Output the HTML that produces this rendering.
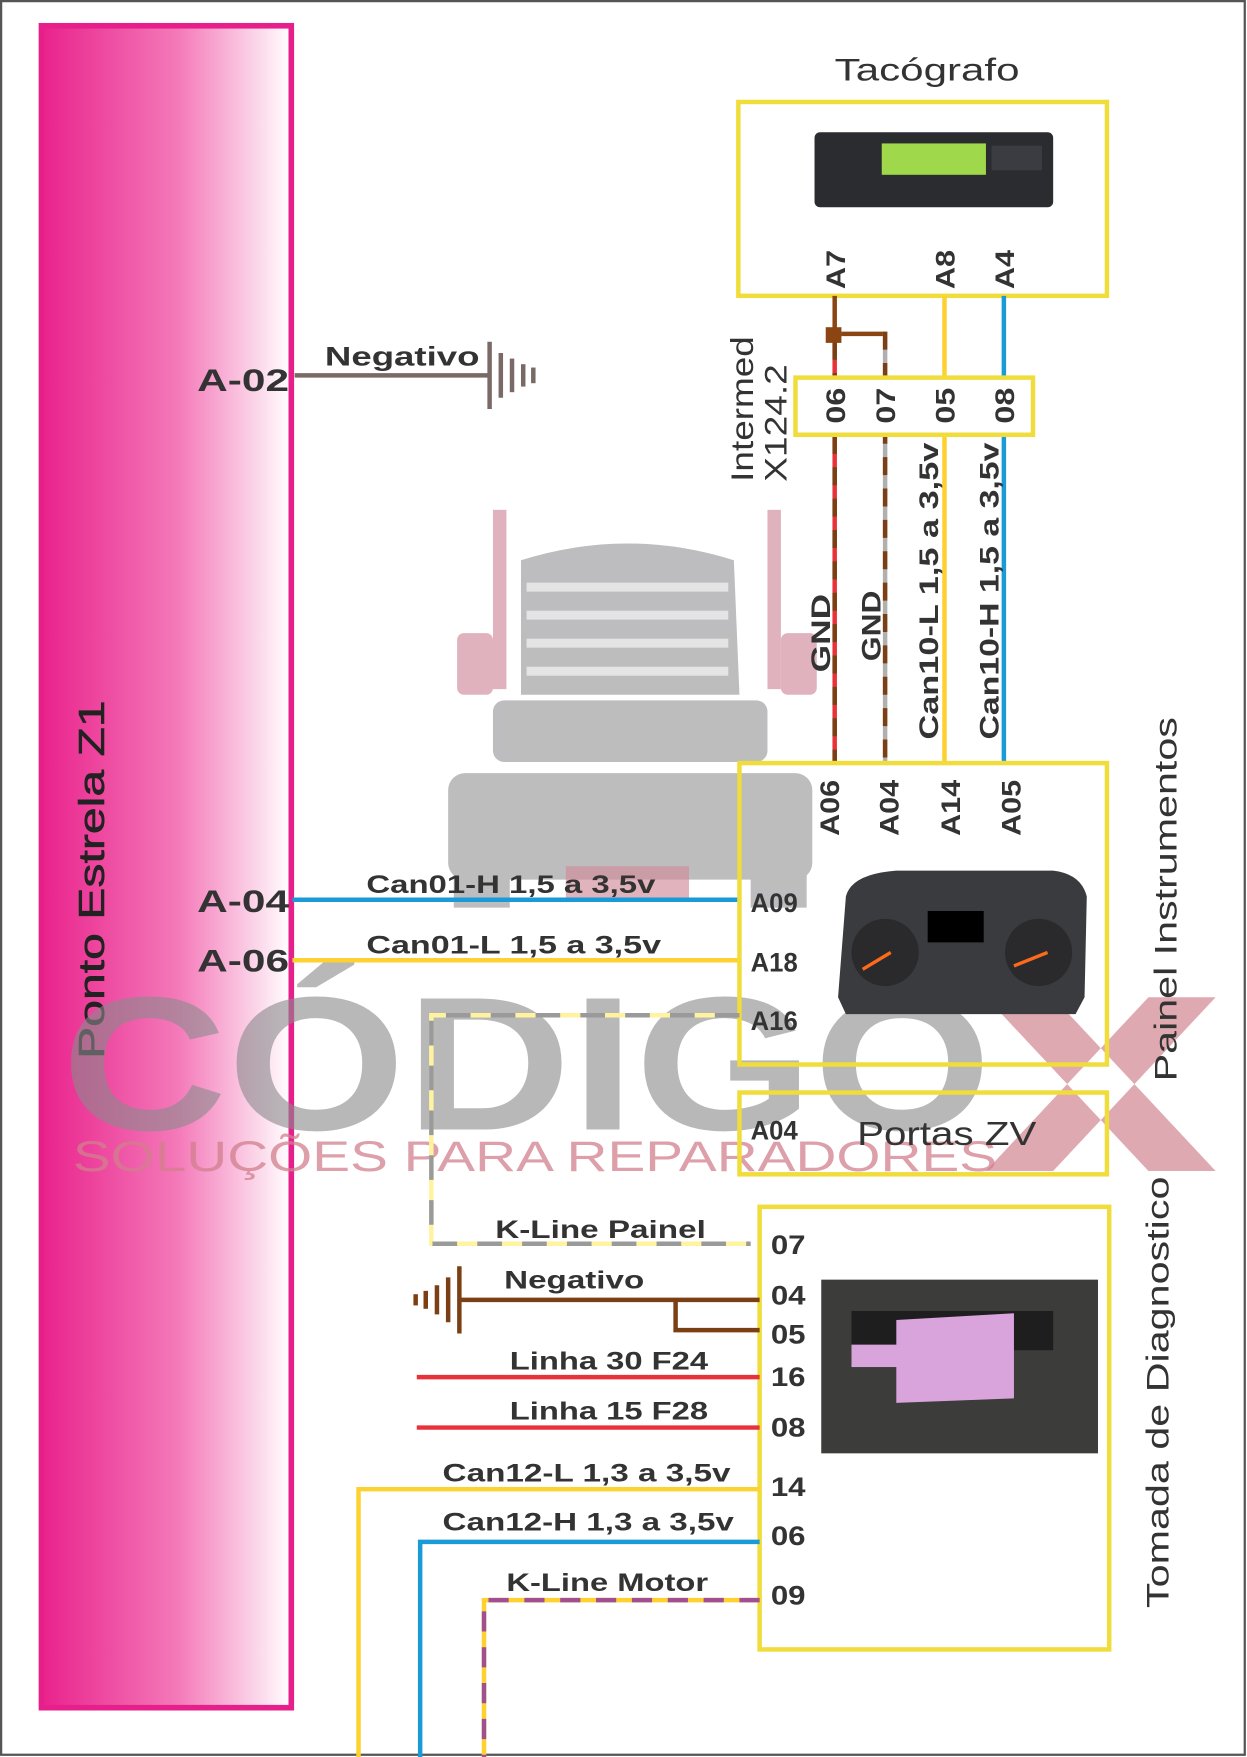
<!DOCTYPE html>
<html><head><meta charset="utf-8"><style>html,body{margin:0;padding:0;background:#fff}svg{display:block}text{font-family:"Liberation Sans",sans-serif}</style></head><body>
<svg width="1247" height="1757" viewBox="0 0 1113 1568" preserveAspectRatio="none" xmlns="http://www.w3.org/2000/svg">
<defs>
<linearGradient id="pg" x1="0" x2="1" y1="0" y2="0"><stop offset="0" stop-color="#e9228c"/><stop offset="0.55" stop-color="#f47ab9"/><stop offset="1" stop-color="#fff"/></linearGradient>
</defs>
<rect x="1" y="1" width="1110" height="1565" fill="#fff" stroke="#555" stroke-width="2"/>
<rect x="37" y="23" width="223" height="1501" fill="url(#pg)" stroke="#e61f8a" stroke-width="5"/>
<text transform="translate(93,945) rotate(-90)" font-size="32" fill="#222" stroke="#222" stroke-width="0.5" textLength="320" lengthAdjust="spacingAndGlyphs">Ponto Estrela Z1</text>

<!-- watermark truck -->
<g fill="#9a9a9c" opacity="0.65">
<path d="M465 500 Q560 470 655 500 L660 620 L465 620 Z"/>
<rect x="440" y="625" width="245" height="55" rx="10"/>
<rect x="400" y="690" width="325" height="95" rx="15"/>
<rect x="405" y="780" width="50" height="30"/>
<rect x="670" y="780" width="50" height="30"/>
</g>
<g fill="#fff" opacity="0.6"><rect x="470" y="520" width="180" height="8"/><rect x="470" y="545" width="180" height="8"/><rect x="470" y="570" width="180" height="8"/><rect x="470" y="595" width="180" height="8"/></g>
<g fill="#d08a9a" opacity="0.65">
<rect x="440" y="455" width="12" height="160"/><rect x="685" y="455" width="12" height="160"/>
<rect x="408" y="565" width="32" height="55" rx="6"/><rect x="697" y="565" width="32" height="55" rx="6"/>
<rect x="505" y="773" width="110" height="30"/>
</g>
<text x="55" y="1008" font-size="170" font-weight="bold" fill="#8a8a8c" opacity="0.6" textLength="830" lengthAdjust="spacingAndGlyphs">CÓDIGO</text>
<path d="M880 890 L940 890 L1085 1045 L1025 1045 Z M1085 890 L1025 890 L880 1045 L940 1045 Z" fill="#c9707f" opacity="0.6"/>
<text x="65" y="1045" font-size="38" fill="#d27f8d" opacity="0.75" textLength="825" lengthAdjust="spacingAndGlyphs">SOLUÇÕES PARA REPARADORES</text>

<!-- left connections -->
<g font-weight="bold" fill="#333" font-size="28">
<text x="176" y="349" textLength="82" lengthAdjust="spacingAndGlyphs">A-02</text><text x="176" y="814" textLength="82" lengthAdjust="spacingAndGlyphs">A-04</text><text x="176" y="867" textLength="82" lengthAdjust="spacingAndGlyphs">A-06</text>
</g>
<line x1="263" y1="335" x2="437" y2="335" stroke="#7a6a66" stroke-width="4"/>
<text x="290" y="326" font-size="24" font-weight="bold" fill="#333" textLength="138" lengthAdjust="spacingAndGlyphs">Negativo</text>
<g stroke="#7a6a66" stroke-width="4"><line x1="437" y1="305" x2="437" y2="365"/><line x1="447" y1="315" x2="447" y2="355"/><line x1="457" y1="320" x2="457" y2="350"/><line x1="467" y1="325" x2="467" y2="345"/><line x1="476" y1="328" x2="476" y2="342"/></g>
<line x1="261" y1="803" x2="660" y2="803" stroke="#1a9ad6" stroke-width="4"/>
<line x1="261" y1="857" x2="660" y2="857" stroke="#fdd130" stroke-width="4"/>
<g font-size="22" font-weight="bold" fill="#333"><text x="327" y="797" textLength="258" lengthAdjust="spacingAndGlyphs">Can01-H 1,5 a 3,5v</text><text x="327" y="851" textLength="263" lengthAdjust="spacingAndGlyphs">Can01-L  1,5 a 3,5v</text></g>

<!-- Tacografo -->
<text x="745" y="72" font-size="28" fill="#333" textLength="165" lengthAdjust="spacingAndGlyphs">Tacógrafo</text>
<rect x="659" y="91" width="329" height="173" fill="none" stroke="#f0dc3a" stroke-width="4"/>
<rect x="727" y="118" width="213" height="67" rx="5" fill="#2a2c30"/>
<rect x="787" y="128" width="93" height="28" fill="#9fd84a"/>
<rect x="885" y="130" width="45" height="22" fill="#3a3c42"/>
<g font-weight="bold" font-size="24" fill="#333">
<text transform="translate(754,258) rotate(-90)" textLength="35" lengthAdjust="spacingAndGlyphs">A7</text><text transform="translate(852,258) rotate(-90)" textLength="35" lengthAdjust="spacingAndGlyphs">A8</text><text transform="translate(905,258) rotate(-90)" textLength="35" lengthAdjust="spacingAndGlyphs">A4</text>
</g>
<!-- wires -->
<line x1="745" y1="264" x2="745" y2="305" stroke="#8b4513" stroke-width="4"/>
<line x1="745" y1="305" x2="745" y2="680" stroke="#e8323a" stroke-width="4"/>
<line x1="745" y1="305" x2="745" y2="680" stroke="#7b3f14" stroke-width="4" stroke-dasharray="16 12"/>
<rect x="737" y="292" width="14" height="14" fill="#8b4513"/>
<line x1="751" y1="298" x2="790" y2="298" stroke="#8b4513" stroke-width="4"/>
<line x1="790" y1="296" x2="790" y2="680" stroke="#b0b0b0" stroke-width="4"/>
<line x1="790" y1="296" x2="790" y2="680" stroke="#7b3f14" stroke-width="4" stroke-dasharray="16 12"/>
<line x1="843" y1="264" x2="843" y2="680" stroke="#fdd130" stroke-width="4"/>
<line x1="896" y1="264" x2="896" y2="680" stroke="#1a9ad6" stroke-width="4"/>
<rect x="710" y="337" width="212" height="51" fill="#fff" stroke="#f0dc3a" stroke-width="4"/>
<g font-weight="bold" font-size="24" fill="#333">
<text transform="translate(754,378) rotate(-90)" textLength="32" lengthAdjust="spacingAndGlyphs">06</text><text transform="translate(799,378) rotate(-90)" textLength="32" lengthAdjust="spacingAndGlyphs">07</text><text transform="translate(852,378) rotate(-90)" textLength="32" lengthAdjust="spacingAndGlyphs">05</text><text transform="translate(905,378) rotate(-90)" textLength="32" lengthAdjust="spacingAndGlyphs">08</text>
<text transform="translate(741,600) rotate(-90)" textLength="70" lengthAdjust="spacingAndGlyphs">GND</text><text transform="translate(786,590) rotate(-90)" textLength="63" lengthAdjust="spacingAndGlyphs">GND</text>
<text transform="translate(837,660) rotate(-90)" textLength="265" lengthAdjust="spacingAndGlyphs">Can10-L 1,5 a 3,5v</text><text transform="translate(891,660) rotate(-90)" textLength="265" lengthAdjust="spacingAndGlyphs">Can10-H 1,5 a 3,5v</text>
</g>
<g font-size="28" fill="#333"><text transform="translate(672,430) rotate(-90)" textLength="130" lengthAdjust="spacingAndGlyphs">Intermed</text><text transform="translate(702,430) rotate(-90)" textLength="105" lengthAdjust="spacingAndGlyphs">X124.2</text></g>

<!-- Painel -->
<rect x="660" y="681" width="328" height="269" fill="none" stroke="#f0dc3a" stroke-width="4"/>
<g font-weight="bold" font-size="24" fill="#333">
<text transform="translate(749,746) rotate(-90)" textLength="50" lengthAdjust="spacingAndGlyphs">A06</text><text transform="translate(802,746) rotate(-90)" textLength="50" lengthAdjust="spacingAndGlyphs">A04</text><text transform="translate(857,746) rotate(-90)" textLength="50" lengthAdjust="spacingAndGlyphs">A14</text><text transform="translate(911,746) rotate(-90)" textLength="50" lengthAdjust="spacingAndGlyphs">A05</text>
<text x="670" y="814" textLength="42" lengthAdjust="spacingAndGlyphs">A09</text><text x="670" y="867" textLength="42" lengthAdjust="spacingAndGlyphs">A18</text><text x="670" y="919" textLength="42" lengthAdjust="spacingAndGlyphs">A16</text><text x="670" y="1017" textLength="42" lengthAdjust="spacingAndGlyphs">A04</text>
</g>
<path d="M755 800 Q760 780 800 777 L940 777 Q965 780 970 800 L968 890 L960 905 L755 905 L748 890 Z" fill="#3a3b3e"/>
<rect x="828" y="813" width="50" height="28" fill="#000"/>
<circle cx="790" cy="850" r="30" fill="#2a2a2c"/><circle cx="927" cy="850" r="30" fill="#2a2a2c"/>
<line x1="770" y1="865" x2="795" y2="850" stroke="#ff6a1a" stroke-width="3"/><line x1="905" y1="862" x2="935" y2="850" stroke="#ff6a1a" stroke-width="3"/>
<text transform="translate(1050,965) rotate(-90)" font-size="28" fill="#333" textLength="325" lengthAdjust="spacingAndGlyphs">Painel Instrumentos</text>
<rect x="660" y="975" width="328" height="73" fill="none" stroke="#f0dc3a" stroke-width="4"/>
<text x="765" y="1022" font-size="30" fill="#333" textLength="160" lengthAdjust="spacingAndGlyphs">Portas ZV</text>

<!-- K-line painel -->
<path d="M660 906 L385 906 L385 1110 L670 1110" fill="none" stroke="#fff3a0" stroke-width="4"/>
<path d="M660 906 L385 906 L385 1110 L670 1110" fill="none" stroke="#9a9a9a" stroke-width="4" stroke-dasharray="22 18"/>

<!-- Tomada -->
<rect x="678" y="1077" width="312" height="395" fill="none" stroke="#f0dc3a" stroke-width="4"/>
<text transform="translate(1043,1435) rotate(-90)" font-size="28" fill="#333" textLength="385" lengthAdjust="spacingAndGlyphs">Tomada de Diagnostico</text>
<rect x="733" y="1142" width="247" height="155" fill="#3c3c3a"/>
<rect x="760" y="1170" width="180" height="35" fill="#1e1e1e"/>
<path d="M800 1178 L905 1172 L905 1248 L800 1252 Z" fill="#d9a3dc"/>
<rect x="760" y="1200" width="50" height="20" fill="#d9a3dc"/>
<g font-weight="bold" font-size="24" fill="#333">
<text x="688" y="1119" textLength="31" lengthAdjust="spacingAndGlyphs">07</text><text x="688" y="1164" textLength="31" lengthAdjust="spacingAndGlyphs">04</text><text x="688" y="1199" textLength="31" lengthAdjust="spacingAndGlyphs">05</text><text x="688" y="1237" textLength="31" lengthAdjust="spacingAndGlyphs">16</text><text x="688" y="1282" textLength="31" lengthAdjust="spacingAndGlyphs">08</text><text x="688" y="1335" textLength="31" lengthAdjust="spacingAndGlyphs">14</text><text x="688" y="1379" textLength="31" lengthAdjust="spacingAndGlyphs">06</text><text x="688" y="1432" textLength="31" lengthAdjust="spacingAndGlyphs">09</text>
</g>
<g font-weight="bold" font-size="22" fill="#333">
<text x="442" y="1105" textLength="188" lengthAdjust="spacingAndGlyphs">K-Line Painel</text><text x="450" y="1150" textLength="125" lengthAdjust="spacingAndGlyphs">Negativo</text>
<text x="455" y="1222" textLength="177" lengthAdjust="spacingAndGlyphs">Linha 30 F24</text><text x="455" y="1267" textLength="177" lengthAdjust="spacingAndGlyphs">Linha 15 F28</text>
<text x="395" y="1322" textLength="257" lengthAdjust="spacingAndGlyphs">Can12-L 1,3 a 3,5v</text><text x="395" y="1366" textLength="260" lengthAdjust="spacingAndGlyphs">Can12-H 1,3 a 3,5v</text><text x="452" y="1420" textLength="180" lengthAdjust="spacingAndGlyphs">K-Line Motor</text>
</g>
<g stroke="#7b3f14" stroke-width="4" fill="none">
<line x1="410" y1="1160" x2="678" y2="1160"/><path d="M603 1160 L603 1187 L678 1187"/>
<line x1="410" y1="1130" x2="410" y2="1190"/><line x1="400" y1="1140" x2="400" y2="1180"/><line x1="390" y1="1147" x2="390" y2="1173"/><line x1="380" y1="1152" x2="380" y2="1168"/><line x1="371" y1="1155" x2="371" y2="1165"/>
</g>
<line x1="372" y1="1229" x2="678" y2="1229" stroke="#e8323a" stroke-width="4"/>
<line x1="372" y1="1274" x2="678" y2="1274" stroke="#e8323a" stroke-width="4"/>
<path d="M678 1329 L320 1329 L320 1568" fill="none" stroke="#fdd130" stroke-width="4"/>
<path d="M678 1376 L375 1376 L375 1568" fill="none" stroke="#1a9ad6" stroke-width="4"/>
<path d="M678 1428 L432 1428 L432 1568" fill="none" stroke="#fdd130" stroke-width="4"/>
<path d="M678 1428 L432 1428 L432 1568" fill="none" stroke="#a0508f" stroke-width="4" stroke-dasharray="18 14"/>
</svg>
</body></html>
